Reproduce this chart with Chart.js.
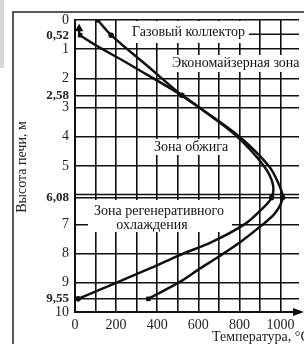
<!DOCTYPE html>
<html>
<head>
<meta charset="utf-8">
<script src="https://cdn.jsdelivr.net/npm/chart.js@4"></script>
<style>
  body { margin: 0; background: #fff; }
  #wrap { width: 304px; height: 344px; }
</style>
</head>
<body>
<div id="wrap"><canvas id="furnace" width="304" height="344"></canvas></div>
<script>
// Высота печи (м) и температура (°C)
const yTicks = [0, 0.52, 1, 2, 2.58, 3, 4, 5, 6.08, 7, 8, 9, 9.55, 10];
const boldTicks = [0.52, 2.58, 6.08, 9.55];
const xTicks = [0, 100, 200, 300, 400, 500, 600, 700, 800, 900, 1000];
const xLabelled = [0, 200, 400, 600, 800, 1000];

// внешняя кривая
const outerT = [20, 25, 270, 520, 605, 800, 943, 990, 1010, 975, 905, 805, 700, 600, 510, 357];
const outerH = [0.3, 0.52, 1.54, 2.58, 3, 4, 5, 5.6, 6.08, 6.6, 7.05, 7.6, 8.1, 8.55, 8.97, 9.55];
const outerMarks = ["triangle", "rect", null, "rect", null, null, null, null, "circle", null, null, null, null, null, null, "rect"];

// внутренняя кривая
const innerT = [110, 176, 350, 520, 605, 790, 919, 962, 957, 905, 824, 667, 510, 367, 15];
const innerH = [0, 0.52, 1.56, 2.58, 3, 4, 5, 5.6, 6.08, 6.5, 7.0, 7.6, 8.05, 8.5, 9.55];
const innerMarks = ["circle", "circle", null, "circle", null, null, null, null, "circle", null, null, null, null, null, "circle"];

const zoneLabels = ["Газовый коллектор", "Экономайзерная зона", "Зона обжига", "Зона регенеративного", "охлаждения"];

const serif = "'Liberation Serif', 'DejaVu Serif', serif";

function toPoints(ts, hs) {
    return ts.map((t, i) => ({ x: t, y: hs[i] }));
}

function curve(ts, hs, marks) {
    return {
        data: toPoints(ts, hs),
        showLine: true,
        borderColor: "#111",
        borderWidth: 2.5,
        tension: 0.35,
        pointStyle: marks.map(m => m || "circle"),
        pointRadius: marks.map(m => m === "triangle" ? 5 : m === "rect" ? 3.2 : m ? 2.8 : 0),
        pointBackgroundColor: "#111",
        pointBorderColor: "#111",
        pointBorderWidth: 0,
    };
}

const decor = {
    id: "decor",
    beforeDatasetsDraw(chart) {
        const { ctx, chartArea: a, scales: { x, y } } = chart;
        ctx.save();
        // двойная линия на 6,08 и линия 0,52 справа от подписи
        ctx.strokeStyle = "#111";
        ctx.lineWidth = 1.6;
        ctx.beginPath();
        const y608 = y.getPixelForValue(6.08) - 3;
        ctx.moveTo(a.left, y608); ctx.lineTo(a.right, y608);
        const y052 = y.getPixelForValue(0.52) - 1;
        ctx.moveTo(249, y052); ctx.lineTo(a.right, y052);
        ctx.stroke();

        function box(x0, y0, w, h) {
            ctx.fillStyle = "#fff";
            ctx.fillRect(x0, y0, w, h);
        }
        box(128, y.top + 1, 121, 22);
        box(170, 55, 134, 17);
        box(151, 139, 82, 16);
        box(88, 200, 144, 32);

        ctx.fillStyle = "#111";
        ctx.font = "14px " + serif;
        ctx.textBaseline = "middle";
        ctx.textAlign = "left";
        ctx.fillText(zoneLabels[0], 132, 32);
        ctx.fillText(zoneLabels[1], 172, 63);
        ctx.fillText(zoneLabels[2], 154, 147);
        ctx.textAlign = "center";
        ctx.fillText(zoneLabels[3], 159, 211);
        ctx.fillText(zoneLabels[4], 152, 225);
        ctx.restore();
    },
    afterDraw(chart) {
        const { ctx, chartArea: a, scales: { y } } = chart;
        ctx.save();
        // рамка рисунка
        ctx.strokeStyle = "#222";
        ctx.lineWidth = 1.5;
        ctx.beginPath();
        ctx.moveTo(13, 400); ctx.lineTo(13, 12); ctx.lineTo(304, 12);
        ctx.stroke();
        ctx.fillStyle = "#d6d6d6";
        ctx.fillRect(0, 0, 4, 68);

        // стрелка оси температуры
        const yb = y.getPixelForValue(10);
        ctx.fillStyle = "#111";
        ctx.beginPath();
        ctx.moveTo(304, yb); ctx.lineTo(293, yb - 4); ctx.lineTo(293, yb + 4);
        ctx.closePath();
        ctx.fill();

        // подписи осей
        ctx.font = "14px " + serif;
        ctx.fillStyle = "#222";
        ctx.textBaseline = "middle";
        ctx.textAlign = "left";
        ctx.fillText("Температура, °C", 212, 337);
        ctx.translate(22, 167);
        ctx.rotate(-Math.PI / 2);
        ctx.textAlign = "center";
        ctx.fillText("Высота печи, м", 0, 0);
        ctx.restore();
    }
};

const ctx = document.getElementById("furnace").getContext("2d");

new Chart(ctx, {
    type: "scatter",
    data: {
        datasets: [
            curve(outerT, outerH, outerMarks),
            curve(innerT, innerH, innerMarks),
        ],
    },
    options: {
        responsive: false,
        animation: false,
        layout: { padding: { top: 20, right: 0, left: 0, bottom: 0 } },
        plugins: { legend: { display: false }, tooltip: { enabled: false } },
        scales: {
            x: {
                type: "linear",
                min: 0,
                max: 1090,
                afterBuildTicks: s => { s.ticks = xTicks.map(v => ({ value: v })); },
                afterFit: s => { s.height = 32; },
                border: { color: "#111", width: 2 },
                grid: { color: "#111", lineWidth: 1.6, drawTicks: false },
                ticks: {
                    padding: 5,
                    color: "#222",
                    maxRotation: 0,
                    autoSkip: false,
                    font: { family: serif, size: 14 },
                    callback: v => xLabelled.includes(v) ? String(v) : "",
                },
            },
            y: {
                type: "linear",
                reverse: true,
                min: 0,
                max: 10,
                afterBuildTicks: s => { s.ticks = yTicks.map(v => ({ value: v })); },
                afterFit: s => { s.width = 75; },
                border: { color: "#111", width: 2 },
                grid: {
                    color: c => c.tick && c.tick.value === 0.52 ? "rgba(0,0,0,0)" : "#111",
                    lineWidth: 1.6,
                    drawTicks: false,
                },
                ticks: {
                    padding: 6,
                    color: "#222",
                    autoSkip: false,
                    font: c => boldTicks.includes(c.tick && c.tick.value)
                        ? { family: serif, size: 13, weight: "bold" }
                        : { family: serif, size: 14 },
                    callback: v => String(v).replace(".", ","),
                },
            },
        },
    },
    plugins: [decor],
});
</script>
</body>
</html>
